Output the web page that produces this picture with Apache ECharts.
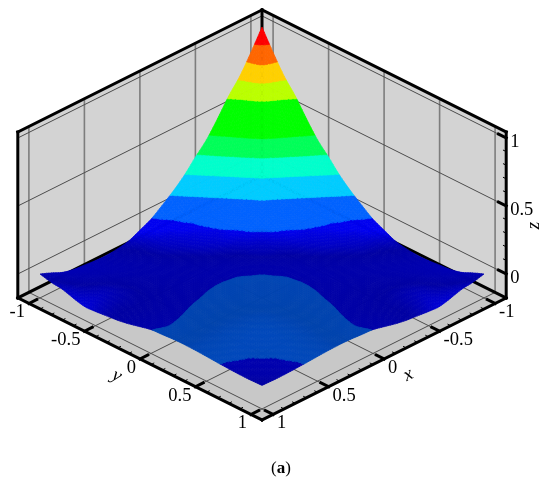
<!DOCTYPE html>
<html>
<head>
<meta charset="utf-8">
<style>html,body{margin:0;padding:0;background:#fff}#c{width:550px;height:485px}</style>
<script src="https://cdn.jsdelivr.net/npm/echarts@6/dist/echarts.min.js"></script>
</head>
<body>
<div id="c"></div>
<script>
const xTicks = [-1, -0.5, 0, 0.5, 1];
const yTicks = [-1, -0.5, 0, 0.5, 1];
const zTicks = [0, 0.5, 1];
const minorStep = 0.1;
const xRange = [-1.1, 1.1];
const yRange = [-1.1, 1.1];
const zRange = [-0.176, 1.044];
const gridCoords = [-1,-0.9,-0.8,-0.7,-0.6,-0.5,-0.4,-0.3,-0.2,-0.1,0,0.1,0.2,0.3,0.4,0.5,0.6,0.7,0.8,0.9,1];
// z; row k holds y = gridCoords[k], x from y up to 1 (the surface mirrors across x = y)
const zRows = [
 [1,.854,.72,.615,.49,.375,.288,.195,.12,.055,-.005,-.045,-.083,-.1,-.107,-.105,-.098,-.09,-.07,-.033,0],
 [.795,.652,.521,.405,.307,.211,.134,.067,.01,-.022,-.05,-.07,-.085,-.09,-.088,-.08,-.065,-.05,-.04,-.02],
 [.553,.435,.328,.226,.1475,.078,.02,-.005,-.025,-.048,-.062,-.072,-.075,-.072,-.062,-.05,-.042,-.036,-.03],
 [.347,.242,.161,.09,.036,.008,-.012,-.032,-.05,-.06,-.063,-.062,-.055,-.047,-.042,-.042,-.047,-.055],
 [.175,.102,.052,.022,-.002,-.025,-.04,-.05,-.055,-.054,-.05,-.044,-.038,-.038,-.045,-.06,-.075],
 [.068,.035,.003,-.015,-.03,-.04,-.046,-.048,-.045,-.04,-.035,-.035,-.04,-.045,-.058,-.072],
 [.008,-.008,-.018,-.028,-.034,-.037,-.037,-.034,-.03,-.03,-.03,-.034,-.04,-.05,-.063],
 [-.02,-.027,-.03,-.03,-.028,-.025,-.021,-.019,-.019,-.02,-.026,-.03,-.04,-.055],
 [-.03,-.028,-.022,-.017,-.013,-.011,-.011,-.012,-.013,-.016,-.02,-.028,-.04],
 [-.02,-.011,-.003,-.0005,.0002,-.001,-.004,-.006,-.008,-.01,-.014,-.02],
 [-.001,.003,.006,.008,.008,.006,.003,0,-.002,-.003,-.001],
 [.01,.012,.014,.014,.012,.009,.006,.004,.003,.004],
 [.018,.02,.02,.018,.015,.013,.011,.01,.01],
 [.022,.022,.02,.018,.015,.013,.012,.012],
 [.022,.02,.016,.013,.011,.01,.01],
 [.018,.014,.01,.008,.007,.006],
 [.012,.007,.004,.002,.001],
 [.005,.0005,-.001,-.003],
 [-.002,-.004,-.006],
 [-.006,-.006],
 [-.003]
];
const bandLevels = [-1,0,.1,.2,.3,.4,.5,.6,.7,.8,.9,2];
const bandColors = [[0,0,240],[0,98,255],[0,204,255],[0,255,204],[0,255,88],[0,255,0],[0,255,0],[187,255,0],[255,208,0],[255,102,0],[255,0,0]];

// view: screen offsets of one data unit
const pxX = 111, pxS = 55.5, pxZ = 136, originX = 262, originY = 274, W = 550, H = 485;
const uOf = (x, y) => y - x;
const vOf = (x, y, z) => z - (pxS / pxZ) * (x + y);
const P = (x, y, z) => [uOf(x, y), vOf(x, y, z)];

const N = gridCoords.length;
const zAt = (i, j) => {
  const a = Math.min(i, j), b = Math.max(i, j);
  return zRows[a][b - a];
};
const zExt = (i, j) => {
  const ci = Math.max(0, Math.min(N - 1, i)), cj = Math.max(0, Math.min(N - 1, j));
  if (ci === i && cj === j) return zAt(i, j);
  const ni = ci + (i < ci ? 1 : i > ci ? -1 : 0), nj = cj + (j < cj ? 1 : j > cj ? -1 : 0);
  return 2 * zAt(ci, cj) - zAt(ni, nj);
};
const cr = (p0, p1, p2, p3, t) => p1 + 0.5 * t * (p2 - p0 + t * (2 * p0 - 5 * p1 + 4 * p2 - p3 + t * (3 * (p1 - p2) + p3 - p0)));
function surf(fi, fj) {
  const i = Math.min(N - 2, Math.floor(fi)), j = Math.min(N - 2, Math.floor(fj));
  const ti = fi - i, tj = fj - j, r = [];
  for (let k = -1; k <= 2; k++) r.push(cr(zExt(i + k, j - 1), zExt(i + k, j), zExt(i + k, j + 1), zExt(i + k, j + 2), tj));
  return cr(r[0], r[1], r[2], r[3], ti);
}
const cellStep = gridCoords[1] - gridCoords[0];
const coordAt = f => gridCoords[0] + f * cellStep;

function clip(poly, level, keepAbove) {
  const out = [];
  for (let k = 0; k < poly.length; k++) {
    const a = poly[k], b = poly[(k + 1) % poly.length];
    const ina = keepAbove ? a[2] >= level : a[2] <= level;
    const inb = keepAbove ? b[2] >= level : b[2] <= level;
    if (ina) out.push(a);
    if (ina !== inb) {
      const t = (level - a[2]) / (b[2] - a[2]);
      out.push([a[0] + t * (b[0] - a[0]), a[1] + t * (b[1] - a[1]), level]);
    }
  }
  return out;
}
const SUB = 5, SPAN = 2;
const cells = [];
for (let i = 0; i < N - 1; i++) for (let j = 0; j < N - 1; j++) cells.push([i, j]);
cells.sort((a, b) => (a[0] + a[1]) - (b[0] + b[1]));

function slopeLight(fi, fj) {
  const hiJ = Math.min(N - 1, fj + SPAN), loJ = Math.max(0, fj - SPAN);
  const hiI = Math.min(N - 1, fi + SPAN), loI = Math.max(0, fi - SPAN);
  const gx = (surf(fi, hiJ) - surf(fi, loJ)) / ((hiJ - loJ) * cellStep);
  const gy = (surf(hiI, fj) - surf(loI, fj)) / ((hiI - loI) * cellStep);
  const g = gx + gy;
  return Math.min(1, 0.68 + (g < 0 ? -0.9 * g : 0.2 * g));
}

function renderCell(params, api) {
  const ci = api.value(0), cj = api.value(1), children = [];
  for (let a = 0; a < SUB; a++) for (let b = 0; b < SUB; b++) {
    const f = [[ci + a / SUB, cj + b / SUB], [ci + (a + 1) / SUB, cj + b / SUB], [ci + (a + 1) / SUB, cj + (b + 1) / SUB], [ci + a / SUB, cj + (b + 1) / SUB]];
    const q = f.map(p => [coordAt(p[1]), coordAt(p[0]), surf(p[0], p[1])]);
    const lit = slopeLight(ci + (a + .5) / SUB, cj + (b + .5) / SUB);
    const zs = q.map(p => p[2]);
    const lo = Math.min.apply(null, zs), hi = Math.max.apply(null, zs);
    for (let k = 0; k < bandColors.length; k++) {
      if (hi < bandLevels[k] || lo > bandLevels[k + 1]) continue;
      let poly = clip(q, bandLevels[k], true);
      if (poly.length) poly = clip(poly, bandLevels[k + 1], false);
      if (poly.length < 3) continue;
      const c = bandColors[k];
      const col = 'rgb(' + Math.round(c[0] * lit) + ',' + Math.round(c[1] * lit) + ',' + Math.round(c[2] * lit) + ')';
      children.push({
        type: 'polygon', silent: true,
        shape: { points: poly.map(p => api.coord(P(p[0], p[1], p[2]))) },
        style: { fill: col, stroke: col, lineWidth: 0.7 }
      });
    }
  }
  return { type: 'group', children };
}

const wallFill = '#d3d3d3', floorFill = '#c8c8c8', gridDark = '#4d4d4d', gridGrey = '#7d7d7d';
const [x0, x1] = xRange, [y0, y1] = yRange, [z0, z1] = zRange;

function renderBox(params, api) {
  const C = (x, y, z) => api.coord(P(x, y, z));
  const kids = [];
  const poly = (pts, fill) => kids.push({ type: 'polygon', silent: true, shape: { points: pts }, style: { fill } });
  const line = (a, b, stroke, lineWidth) => kids.push({ type: 'line', silent: true, shape: { x1: a[0], y1: a[1], x2: b[0], y2: b[1] }, style: { stroke, lineWidth, lineCap: 'square' } });
  poly([C(x1, y0, z0), C(x0, y0, z0), C(x0, y0, z1), C(x1, y0, z1)], wallFill);
  poly([C(x0, y1, z0), C(x0, y0, z0), C(x0, y0, z1), C(x0, y1, z1)], wallFill);
  poly([C(x1, y0, z0), C(x1, y1, z0), C(x0, y1, z0), C(x0, y0, z0)], floorFill);
  xTicks.forEach(x => {
    line(C(x, y0, z0), C(x, y0, z1), gridGrey, 1.6);
    line(C(x, y0, z0), C(x, y1, z0), gridDark, 1);
  });
  yTicks.forEach(y => {
    line(C(x0, y, z0), C(x0, y, z1), gridGrey, 1.6);
    line(C(x0, y, z0), C(x1, y, z0), gridDark, 1);
  });
  zTicks.forEach(z => {
    line(C(x1, y0, z), C(x0, y0, z), gridDark, 1);
    line(C(x0, y0, z), C(x0, y1, z), gridDark, 1);
  });
  const K = '#000';
  line(C(x1, y0, z1), C(x0, y0, z1), K, 3);
  line(C(x0, y0, z1), C(x0, y1, z1), K, 3);
  line(C(x1, y0, z0), C(x1, y0, z1), K, 3);
  line(C(x0, y1, z0), C(x0, y1, z1), K, 3);
  line(C(x0, y0, z0), C(x0, y0, z1), K, 3);
  line(C(x1, y0, z0), C(x0, y0, z0), K, 3);
  line(C(x0, y0, z0), C(x0, y1, z0), K, 3);
  line(C(x1, y0, z0), C(x1, y1, z0), K, 3);
  line(C(x0, y1, z0), C(x1, y1, z0), K, 3);
  const major = 0.07, minor = 0.025;
  for (let n = -10; n <= 10; n++) {
    const t = n * minorStep, isMajor = n % 5 === 0;
    const w = isMajor ? 3 : 1, len = isMajor ? major : minor;
    line(C(x1, t, z0), C(x1 - len, t, z0), K, w);
    line(C(t, y1, z0), C(t, y1 - len, z0), K, w);
  }
  for (let n = 0; n <= 10; n++) {
    const t = n * minorStep, isMajor = n % 5 === 0;
    line(C(x0, y1, t), C(x0, y1 - (isMajor ? major : minor), t), K, isMajor ? 3 : 1);
  }
  return { type: 'group', children: kids };
}

const font = '18.5px "Liberation Serif", serif';
const fmt = v => String(v);
function renderText(params, api) {
  const C = (x, y, z) => api.coord(P(x, y, z));
  const kids = [];
  const label = (pt, text, dx, dy, align, extra) => kids.push(Object.assign({
    type: 'text', silent: true, x: pt[0] + dx, y: pt[1] + dy,
    style: { text, font: (extra && extra.font) || font, fill: '#000', align, verticalAlign: 'middle' }
  }, extra && extra.el));
  yTicks.forEach(y => label(C(x1, y, z0), fmt(y), -4, 9, 'right'));
  xTicks.forEach(x => label(C(x, y1, z0), fmt(x), 4, 9, 'left'));
  zTicks.forEach(z => label(C(x0, y1, z), fmt(z), 4, 4.5, 'left'));
  const titleFont = 'italic 19px "Liberation Serif", serif';
  label(C(x1, -0.2, z0), 'y', -1, 28, 'center', { font: titleFont, el: { rotation: -0.46 } });
  label(C(-0.2, y1, z0), 'x', 2, 27, 'center', { font: titleFont, el: { rotation: 0.46 } });
  label(C(x0, y1, 0.4), 'z', 28, 6, 'center', { font: titleFont, el: { rotation: Math.PI / 2 } });
  return { type: 'group', children: kids };
}

const chart = echarts.init(document.getElementById('c'), null, { renderer: 'canvas' });
chart.setOption({
  animation: false,
  backgroundColor: '#fff',
  grid: { left: 0, right: 0, top: 0, bottom: 0 },
  xAxis: { type: 'value', show: false, min: -originX / pxX, max: (W - originX) / pxX },
  yAxis: { type: 'value', show: false, min: (originY - H) / pxZ, max: originY / pxZ },
  title: {
    text: '({a|a})', left: 276, top: 455, textAlign: 'center',
    textStyle: { fontFamily: 'Liberation Serif', fontSize: 17, fontWeight: 'normal', color: '#000',
      rich: { a: { fontFamily: 'Liberation Serif', fontSize: 17, fontWeight: 'bold', color: '#000' } } }
  },
  series: [
    { type: 'custom', coordinateSystem: 'cartesian2d', clip: false, silent: true, z: 1, renderItem: renderBox, data: [[0, 0]], encode: { x: 0, y: 1 } },
    { type: 'custom', coordinateSystem: 'cartesian2d', clip: false, silent: true, z: 2, renderItem: renderCell, data: cells, encode: { x: 0, y: 1 }, progressive: 0 },
    { type: 'custom', coordinateSystem: 'cartesian2d', clip: false, silent: true, z: 3, renderItem: renderText, data: [[0, 0]], encode: { x: 0, y: 1 } }
  ]
});
</script>
</body>
</html>
